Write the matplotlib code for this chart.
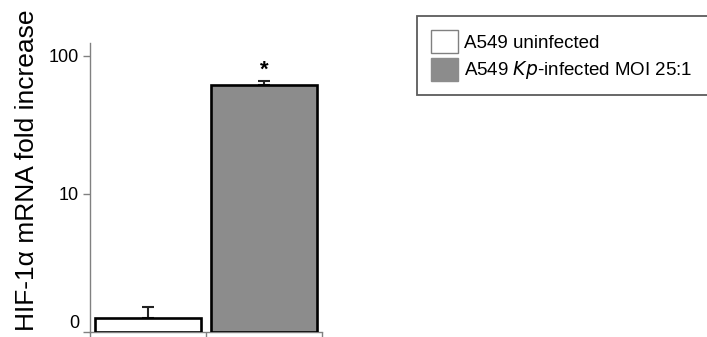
import matplotlib
matplotlib.use('Agg')
import matplotlib.pyplot as plt
from matplotlib.patches import Patch

plt.rcParams['font.family'] = ['Liberation Sans', 'DejaVu Sans']

# data (log scale, bottom of the axis is 1)
groups = ['A549 uninfected', 'A549 $\\it{Kp}$-infected MOI 25:1']
fold_change = [1.26, 61.3]
err_up = [0.26, 4.9]
bar_colors = ['white', '#8c8c8c']
y_ticks = [1, 10, 100]
y_tick_labels = ['0', '10', '100']

fig = plt.figure(figsize=(7.07, 3.37), dpi=100)
ax = fig.add_axes([90/707, 1 - 332/337, 232/707, 289/337])

xpos = [0.5, 1.5]
# bars start at the bottom of the log axis (1)
heights = [v - 1 for v in fold_change]
ax.bar(xpos, heights, width=0.91, bottom=1, color=bar_colors,
       edgecolor='black', linewidth=1.9, zorder=3)
ax.errorbar(xpos, fold_change, yerr=[[0, 0], err_up], fmt='none',
            ecolor='#222222', elinewidth=1.5, capsize=4.5, capthick=1.5,
            zorder=2)

# significance star above the infected bar
ax.annotate('*', xy=(xpos[1], fold_change[1] + err_up[1]), xytext=(0, 0),
            textcoords='offset points', ha='center', va='bottom',
            fontsize=16, fontweight='bold')

ax.set_yscale('log')
ax.set_ylim(1, 124)
ax.set_xlim(0, 2)
ax.set_yticks(y_ticks, labels=y_tick_labels)
ax.minorticks_off()
ax.set_xticks([0, 1, 2], labels=['', '', ''])
ax.tick_params(axis='both', direction='out', length=5, width=1,
               color='#808080', labelsize=13, pad=3)
ax.get_yticklabels()[0].set_va('bottom')

for s in ['top', 'right']:
    ax.spines[s].set_visible(False)
for s in ['left', 'bottom']:
    ax.spines[s].set_color('#808080')
    ax.spines[s].set_linewidth(1)

ax.set_ylabel('HIF-1α mRNA fold increase', fontsize=19, va='center')
ax.yaxis.set_label_coords((27 - 90) / 232, (332 - 170) / 289)

handles = [Patch(facecolor=bar_colors[0], edgecolor='#808080', linewidth=1),
           Patch(facecolor=bar_colors[1], edgecolor='#8c8c8c', linewidth=1)]
leg = fig.legend(handles, groups, loc='upper left',
                 bbox_to_anchor=(417/707, 1 - 16/337, 0.42, 0.0),
                 mode='expand', fontsize=13.5, frameon=True, fancybox=False,
                 handlelength=1.45, handleheight=1.5, handletextpad=0.3,
                 labelspacing=0.25, borderpad=0.75, borderaxespad=0)
leg.get_frame().set_edgecolor('#333333')
leg.get_frame().set_linewidth(1.3)

fig.savefig('out.png', dpi=100)
